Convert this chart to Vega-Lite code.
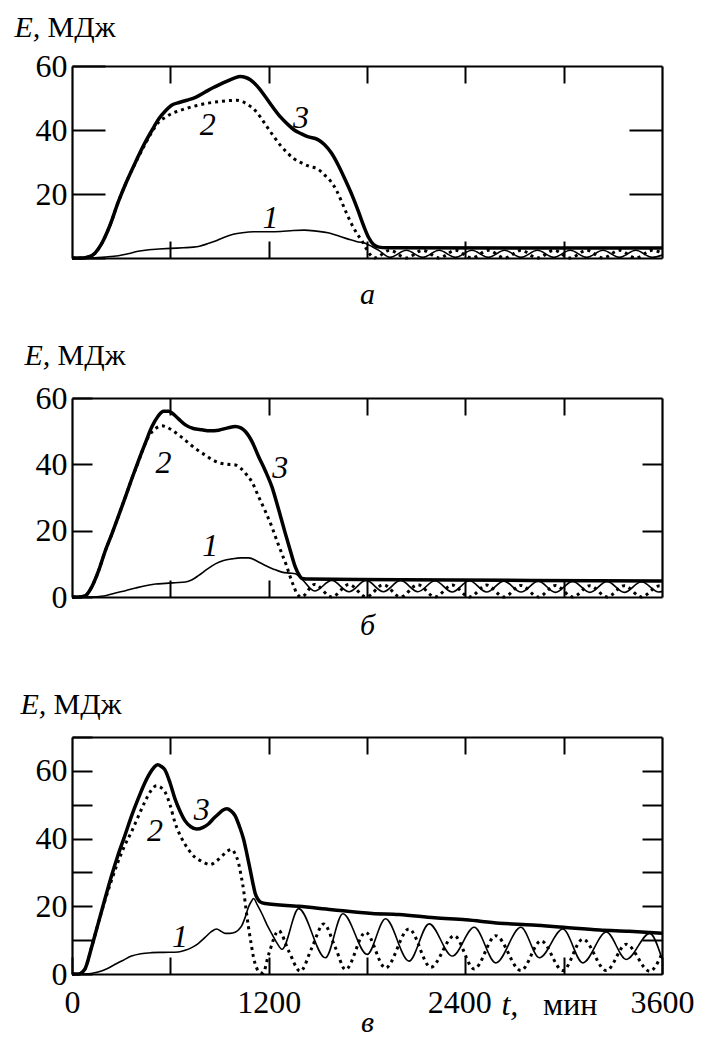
{
"$schema": "https://vega.github.io/schema/vega-lite/v6.json",
"padding": {"left": 14, "top": 12, "right": 5, "bottom": 0},
"background": "white",
"config": {
  "font": "Liberation Serif",
  "view": {"stroke": null},
  "axis": {"grid": false, "domainColor": "black", "domainWidth": 2.2, "tickColor": "black", "tickWidth": 2, "labelFont": "Liberation Serif", "labelFontSize": 32, "labelColor": "black", "titleFont": "Liberation Serif", "titleColor": "black", "titleFontWeight": "normal", "titleFontSize": 30, "labelOverlap": false, "labelFlush": false}
},
"datasets": {
  "a1": [{"t":0,"E":0},{"t":100,"E":0},{"t":200,"E":0.3},{"t":283,"E":0.7},{"t":340,"E":1.3},{"t":403,"E":2.1},{"t":470,"E":2.6},{"t":530,"E":2.8},{"t":600,"E":3},{"t":680,"E":3.2},{"t":740,"E":3.4},{"t":778,"E":3.7},{"t":830,"E":4.5},{"t":880,"E":5.4},{"t":930,"E":6.5},{"t":984,"E":7.4},{"t":1040,"E":7.9},{"t":1108,"E":8.2},{"t":1200,"E":8.2},{"t":1273,"E":8.3},{"t":1350,"E":8.6},{"t":1417,"E":8.7},{"t":1490,"E":8.4},{"t":1562,"E":7.9},{"t":1620,"E":7},{"t":1686,"E":5.9},{"t":1740,"E":5.1},{"t":1789,"E":4.6},{"t":1830,"E":3.6},{"t":1872,"E":2.4},{"t":1940,"E":0.2},{"t":2040,"E":2.4},{"t":2140,"E":0.2},{"t":2240,"E":2.4},{"t":2340,"E":0.2},{"t":2440,"E":2.4},{"t":2540,"E":0.2},{"t":2640,"E":2.4},{"t":2740,"E":0.2},{"t":2840,"E":2.4},{"t":2940,"E":0.2},{"t":3040,"E":2.4},{"t":3140,"E":0.2},{"t":3240,"E":2.4},{"t":3340,"E":0.2},{"t":3440,"E":2.4},{"t":3540,"E":0.2},{"t":3600,"E":0.9}],
  "a2": [{"t":0,"E":0},{"t":60,"E":0},{"t":100,"E":0.3},{"t":140,"E":1.5},{"t":180,"E":4.4},{"t":230,"E":10},{"t":283,"E":17.6},{"t":330,"E":23.5},{"t":386,"E":29.6},{"t":440,"E":35},{"t":489,"E":39.5},{"t":530,"E":42.5},{"t":571,"E":44},{"t":610,"E":45.2},{"t":654,"E":46},{"t":700,"E":46.8},{"t":757,"E":47.6},{"t":830,"E":48.4},{"t":902,"E":48.9},{"t":960,"E":49.2},{"t":1005,"E":49.3},{"t":1040,"E":48.9},{"t":1067,"E":48.1},{"t":1110,"E":46.5},{"t":1150,"E":44},{"t":1190,"E":41},{"t":1232,"E":37.9},{"t":1275,"E":35},{"t":1315,"E":32.8},{"t":1355,"E":31},{"t":1397,"E":29.8},{"t":1450,"E":28.6},{"t":1500,"E":27.8},{"t":1540,"E":26},{"t":1583,"E":23.7},{"t":1615,"E":21},{"t":1645,"E":17.6},{"t":1675,"E":14},{"t":1707,"E":10.5},{"t":1740,"E":7.5},{"t":1769,"E":5.4},{"t":1795,"E":3},{"t":1820,"E":1},{"t":1845,"E":0},{"t":1940,"E":2.4},{"t":2040,"E":0},{"t":2140,"E":2.4},{"t":2240,"E":0},{"t":2340,"E":2.4},{"t":2440,"E":0},{"t":2540,"E":2.4},{"t":2640,"E":0},{"t":2740,"E":2.4},{"t":2840,"E":0},{"t":2940,"E":2.4},{"t":3040,"E":0},{"t":3140,"E":2.4},{"t":3240,"E":0},{"t":3340,"E":2.4},{"t":3440,"E":0},{"t":3540,"E":2.4},{"t":3600,"E":1.6}],
  "a3": [{"t":0,"E":0},{"t":60,"E":0},{"t":100,"E":0.3},{"t":140,"E":1.5},{"t":180,"E":4.4},{"t":230,"E":10},{"t":283,"E":17.6},{"t":330,"E":23.5},{"t":386,"E":29.8},{"t":440,"E":35.5},{"t":489,"E":40},{"t":530,"E":43.5},{"t":571,"E":46},{"t":610,"E":47.8},{"t":654,"E":48.6},{"t":700,"E":49.3},{"t":757,"E":50.3},{"t":810,"E":51.8},{"t":860,"E":53.2},{"t":900,"E":54.2},{"t":943,"E":55.2},{"t":990,"E":56.2},{"t":1026,"E":56.7},{"t":1060,"E":56.4},{"t":1088,"E":55.7},{"t":1130,"E":53.7},{"t":1170,"E":51.1},{"t":1220,"E":47.5},{"t":1273,"E":44},{"t":1320,"E":41.6},{"t":1356,"E":40},{"t":1400,"E":38.8},{"t":1438,"E":37.9},{"t":1500,"E":37},{"t":1540,"E":35.5},{"t":1583,"E":32.8},{"t":1625,"E":29},{"t":1665,"E":24.7},{"t":1710,"E":19.5},{"t":1748,"E":14.5},{"t":1780,"E":10},{"t":1810,"E":6.4},{"t":1840,"E":4.2},{"t":1872,"E":3.4},{"t":1920,"E":3.2},{"t":3600,"E":3.1}],
  "b1": [{"t":0,"E":0},{"t":100,"E":0},{"t":204,"E":0.4},{"t":265,"E":1.2},{"t":326,"E":1.9},{"t":388,"E":2.7},{"t":448,"E":3.4},{"t":510,"E":3.9},{"t":570,"E":4.1},{"t":630,"E":4.3},{"t":692,"E":4.5},{"t":733,"E":5.2},{"t":773,"E":6.5},{"t":825,"E":8.4},{"t":875,"E":10},{"t":925,"E":11},{"t":976,"E":11.5},{"t":1030,"E":11.8},{"t":1078,"E":11.8},{"t":1130,"E":10.8},{"t":1180,"E":9.5},{"t":1230,"E":8.4},{"t":1281,"E":7.5},{"t":1330,"E":7.2},{"t":1363,"E":7},{"t":1404,"E":5.3},{"t":1480,"E":1.8},{"t":1585,"E":5},{"t":1690,"E":1.6},{"t":1795,"E":5},{"t":1900,"E":1.6},{"t":2005,"E":5},{"t":2110,"E":1.6},{"t":2215,"E":4.9},{"t":2320,"E":1.5},{"t":2425,"E":4.9},{"t":2530,"E":1.5},{"t":2635,"E":4.8},{"t":2740,"E":1.5},{"t":2845,"E":4.8},{"t":2950,"E":1.4},{"t":3055,"E":4.7},{"t":3160,"E":1.4},{"t":3265,"E":4.7},{"t":3370,"E":1.4},{"t":3475,"E":4.6},{"t":3580,"E":1.5},{"t":3600,"E":1.7}],
  "b2": [{"t":0,"E":0},{"t":40,"E":0},{"t":82,"E":0.4},{"t":120,"E":3},{"t":163,"E":8},{"t":200,"E":13.5},{"t":244,"E":19.1},{"t":285,"E":24.6},{"t":326,"E":30.2},{"t":366,"E":35.8},{"t":407,"E":41},{"t":440,"E":45.5},{"t":468,"E":48.4},{"t":510,"E":50.8},{"t":549,"E":51.6},{"t":575,"E":51.3},{"t":610,"E":50.3},{"t":660,"E":48.5},{"t":712,"E":46.4},{"t":760,"E":44.5},{"t":813,"E":42.8},{"t":855,"E":41.4},{"t":895,"E":40.5},{"t":950,"E":40},{"t":997,"E":39.8},{"t":1030,"E":38.8},{"t":1058,"E":37.3},{"t":1100,"E":34.5},{"t":1139,"E":30.2},{"t":1180,"E":25.8},{"t":1220,"E":21.1},{"t":1250,"E":17},{"t":1281,"E":13},{"t":1310,"E":9.3},{"t":1332,"E":6},{"t":1355,"E":3},{"t":1373,"E":0.9},{"t":1400,"E":0},{"t":1480,"E":3.8},{"t":1585,"E":0},{"t":1690,"E":3.8},{"t":1795,"E":0},{"t":1900,"E":3.7},{"t":2005,"E":0},{"t":2110,"E":3.7},{"t":2215,"E":0},{"t":2320,"E":3.6},{"t":2425,"E":0},{"t":2530,"E":3.6},{"t":2635,"E":0},{"t":2740,"E":3.5},{"t":2845,"E":0},{"t":2950,"E":3.5},{"t":3055,"E":0},{"t":3160,"E":3.4},{"t":3265,"E":0},{"t":3370,"E":3.4},{"t":3475,"E":0},{"t":3580,"E":3.3},{"t":3600,"E":3.2}],
  "b3": [{"t":0,"E":0},{"t":40,"E":0},{"t":82,"E":0.4},{"t":120,"E":3},{"t":163,"E":8},{"t":200,"E":13.5},{"t":244,"E":19.1},{"t":285,"E":24.6},{"t":326,"E":30.2},{"t":366,"E":35.8},{"t":407,"E":41.3},{"t":448,"E":46.5},{"t":488,"E":51.4},{"t":525,"E":54.5},{"t":559,"E":56},{"t":590,"E":56},{"t":610,"E":55.5},{"t":650,"E":53.7},{"t":692,"E":51.9},{"t":740,"E":50.8},{"t":793,"E":50.4},{"t":840,"E":50.1},{"t":895,"E":50.3},{"t":950,"E":51},{"t":997,"E":51.4},{"t":1030,"E":51},{"t":1058,"E":49.9},{"t":1100,"E":46.7},{"t":1139,"E":42.3},{"t":1180,"E":38},{"t":1220,"E":33.2},{"t":1260,"E":26.5},{"t":1302,"E":19.1},{"t":1335,"E":13.5},{"t":1363,"E":9},{"t":1385,"E":6.7},{"t":1404,"E":5.6},{"t":1450,"E":5.4},{"t":2000,"E":5.2},{"t":2800,"E":5},{"t":3600,"E":4.8}],
  "c1": [{"t":0,"E":0},{"t":80,"E":0},{"t":159,"E":0.6},{"t":210,"E":1.5},{"t":261,"E":2.8},{"t":310,"E":4},{"t":363,"E":5.3},{"t":420,"E":6},{"t":485,"E":6.3},{"t":560,"E":6.4},{"t":649,"E":6.5},{"t":690,"E":7},{"t":730,"E":7.8},{"t":770,"E":9},{"t":812,"E":10.8},{"t":850,"E":12.5},{"t":883,"E":13.3},{"t":910,"E":12.6},{"t":934,"E":12},{"t":965,"E":12},{"t":995,"E":12.3},{"t":1015,"E":13},{"t":1036,"E":14.3},{"t":1057,"E":16.8},{"t":1077,"E":19.8},{"t":1095,"E":21.5},{"t":1108,"E":22.3},{"t":1130,"E":20.5},{"t":1159,"E":17.8},{"t":1190,"E":14.5},{"t":1220,"E":11.8},{"t":1250,"E":9.2},{"t":1281,"E":7.3},{"t":1383,"E":19.3},{"t":1546,"E":4.8},{"t":1653,"E":17.8},{"t":1801,"E":5.8},{"t":1913,"E":16.3},{"t":2056,"E":3.8},{"t":2179,"E":14.8},{"t":2321,"E":5.3},{"t":2454,"E":13.8},{"t":2586,"E":3.3},{"t":2739,"E":13.8},{"t":2852,"E":4.8},{"t":2995,"E":13.3},{"t":3117,"E":3.3},{"t":3260,"E":12.4},{"t":3382,"E":4.3},{"t":3525,"E":12},{"t":3600,"E":4.5}],
  "c2": [{"t":0,"E":0},{"t":40,"E":0},{"t":77,"E":1.3},{"t":120,"E":8},{"t":159,"E":14.8},{"t":200,"E":21.5},{"t":240,"E":27.5},{"t":280,"E":33},{"t":322,"E":38},{"t":363,"E":42},{"t":404,"E":46.5},{"t":444,"E":50.8},{"t":480,"E":54},{"t":516,"E":55.6},{"t":545,"E":55},{"t":567,"E":53.8},{"t":598,"E":50},{"t":628,"E":44.8},{"t":670,"E":40},{"t":710,"E":36.8},{"t":750,"E":34.5},{"t":791,"E":33.3},{"t":842,"E":32.3},{"t":880,"E":33.3},{"t":914,"E":34.8},{"t":945,"E":36.2},{"t":975,"E":36.8},{"t":995,"E":35.5},{"t":1016,"E":32.8},{"t":1032,"E":29},{"t":1047,"E":24.8},{"t":1062,"E":19},{"t":1077,"E":13.8},{"t":1093,"E":9},{"t":1108,"E":4.8},{"t":1125,"E":2},{"t":1145,"E":0.5},{"t":1165,"E":0.3},{"t":1200,"E":5.8},{"t":1261,"E":12.8},{"t":1322,"E":6.8},{"t":1393,"E":0.8},{"t":1464,"E":7.8},{"t":1536,"E":14.8},{"t":1607,"E":7.8},{"t":1669,"E":1.3},{"t":1791,"E":12.3},{"t":1913,"E":1.8},{"t":2056,"E":13.3},{"t":2189,"E":2},{"t":2332,"E":11.3},{"t":2454,"E":1.5},{"t":2586,"E":11.3},{"t":2739,"E":1},{"t":2862,"E":9.8},{"t":2995,"E":1},{"t":3117,"E":10.3},{"t":3260,"E":1},{"t":3382,"E":8.8},{"t":3525,"E":0.8},{"t":3600,"E":6}],
  "c3": [{"t":0,"E":0},{"t":40,"E":0},{"t":77,"E":1.3},{"t":120,"E":8},{"t":159,"E":14.8},{"t":200,"E":22},{"t":240,"E":28.8},{"t":280,"E":35},{"t":322,"E":40.8},{"t":362,"E":46.5},{"t":404,"E":51.8},{"t":440,"E":56},{"t":475,"E":59.3},{"t":500,"E":61},{"t":522,"E":61.8},{"t":545,"E":61.3},{"t":567,"E":60.3},{"t":598,"E":56.5},{"t":628,"E":51.8},{"t":660,"E":48},{"t":689,"E":45.3},{"t":725,"E":43.5},{"t":761,"E":42.8},{"t":800,"E":43.3},{"t":832,"E":44.3},{"t":865,"E":46},{"t":894,"E":47.3},{"t":920,"E":48.4},{"t":944,"E":48.8},{"t":970,"E":48.2},{"t":995,"E":46.8},{"t":1020,"E":43.8},{"t":1047,"E":39.8},{"t":1067,"E":35.5},{"t":1087,"E":30.8},{"t":1103,"E":27},{"t":1118,"E":23.8},{"t":1133,"E":22.2},{"t":1148,"E":21.3},{"t":1179,"E":20.8},{"t":1383,"E":20},{"t":1587,"E":19},{"t":1832,"E":17.9},{"t":1995,"E":17.6},{"t":2212,"E":16.6},{"t":2403,"E":16},{"t":2609,"E":15},{"t":2811,"E":14.5},{"t":3000,"E":13.8},{"t":3219,"E":13},{"t":3400,"E":12.6},{"t":3600,"E":12}],
  "labels": [
    {"p":"a","t":1211,"E":12.5,"txt":"1","it":true},{"p":"a","t":829,"E":41.5,"txt":"2","it":true},{"p":"a","t":1397,"E":43.8,"txt":"3","it":true},
    {"p":"b","t":844,"E":15.5,"txt":"1","it":true},{"p":"b","t":559,"E":40.3,"txt":"2","it":true},{"p":"b","t":1271,"E":39,"txt":"3","it":true},
    {"p":"c","t":659,"E":10.8,"txt":"1","it":true},{"p":"c","t":506,"E":42.3,"txt":"2","it":true},{"p":"c","t":791,"E":48.3,"txt":"3","it":true},
    {"p":"c","t":2672,"E":-9.1,"txt":"t,","it":true},{"p":"c","t":3040,"E":-9.1,"txt":"мин","it":false}
  ]
},
"vconcat": [
  {
    "width": 590, "height": 192,
    "layer": [
      {
        "encoding": {
          "x": {"field":"t","type":"quantitative","scale":{"domain":[0,3600],"nice":false},"axis":{"orient":"bottom","values":[600,1200,1800,2400,3000],"labels":false,"tickSize":-17,"title":"а","titleFontStyle":"italic","titleFontSize":30,"titleBaseline":"alphabetic","titleY":45}},
          "y": {"field":"E","type":"quantitative","scale":{"domain":[0,60],"nice":false},"axis":{"orient":"left","values":[0,20,40,60],"labelExpr":"datum.value === 0 ? '' : datum.label","tickSize":-33,"labelPadding":38,"title":"E,","titleFontStyle":"italic","titleAngle":0,"titleAlign":"left","titleBaseline":"alphabetic","titleX":-58,"titleY":-30}}
        },
        "layer": [
          {"data":{"name":"a1"},"mark":{"type":"line","color":"black","strokeWidth":1.6,"interpolate":"monotone"}},
          {"data":{"name":"a2"},"mark":{"type":"line","color":"black","strokeWidth":3,"strokeDash":[3,4],"interpolate":"monotone"}},
          {"data":{"name":"a3"},"mark":{"type":"line","color":"black","strokeWidth":3.5,"interpolate":"monotone"}}
        ]
      },
      {
        "data":{"name":"labels"},
        "transform":[{"filter":"datum.p === 'a'"}],
        "mark":{"type":"text","font":"Liberation Serif","fontSize":32,"fontStyle":"italic","color":"black"},
        "encoding": {
          "x": {"field":"t","type":"quantitative","scale":{"domain":[0,3600],"nice":false},"axis":{"orient":"top","values":[600,1200,1800,2400,3000],"labels":false,"tickSize":-17,"title":null}},
          "y": {"field":"E","type":"quantitative","scale":{"domain":[0,60],"nice":false},"axis":{"orient":"right","values":[20,40],"labels":false,"tickSize":-33,"title":"МДж","titleAngle":0,"titleAlign":"left","titleBaseline":"alphabetic","titleX":-615,"titleY":-30}},
          "text": {"field":"txt"}
        }
      }
    ],
    "resolve": {"axis": {"x":"independent","y":"independent"}}
  },
  {
    "width": 590, "height": 199,
    "layer": [
      {
        "encoding": {
          "x": {"field":"t","type":"quantitative","scale":{"domain":[0,3600],"nice":false},"axis":{"orient":"bottom","values":[600,1200,1800,2400,3000],"labels":false,"tickSize":-17,"title":"б","titleFontStyle":"italic","titleFontSize":30,"titleBaseline":"alphabetic","titleY":37}},
          "y": {"field":"E","type":"quantitative","scale":{"domain":[0,60],"nice":false},"axis":{"orient":"left","values":[0,20,40,60],"tickSize":-20,"labelPadding":25,"title":"E,","titleFontStyle":"italic","titleAngle":0,"titleAlign":"left","titleBaseline":"alphabetic","titleX":-48,"titleY":-34}}
        },
        "layer": [
          {"data":{"name":"b1"},"mark":{"type":"line","color":"black","strokeWidth":1.6,"interpolate":"monotone"}},
          {"data":{"name":"b2"},"mark":{"type":"line","color":"black","strokeWidth":3,"strokeDash":[3,4],"interpolate":"monotone"}},
          {"data":{"name":"b3"},"mark":{"type":"line","color":"black","strokeWidth":3.5,"interpolate":"monotone"}}
        ]
      },
      {
        "data":{"name":"labels"},
        "transform":[{"filter":"datum.p === 'b'"}],
        "mark":{"type":"text","font":"Liberation Serif","fontSize":32,"fontStyle":"italic","color":"black"},
        "encoding": {
          "x": {"field":"t","type":"quantitative","scale":{"domain":[0,3600],"nice":false},"axis":{"orient":"top","values":[600,1200,1800,2400,3000],"labels":false,"tickSize":-17,"title":null}},
          "y": {"field":"E","type":"quantitative","scale":{"domain":[0,60],"nice":false},"axis":{"orient":"right","values":[20,40],"labels":false,"tickSize":-20,"title":"МДж","titleAngle":0,"titleAlign":"left","titleBaseline":"alphabetic","titleX":-605,"titleY":-34}},
          "text": {"field":"txt"}
        }
      }
    ],
    "resolve": {"axis": {"x":"independent","y":"independent"}}
  },
  {
    "width": 590, "height": 237,
    "layer": [
      {
        "encoding": {
          "x": {"field":"t","type":"quantitative","scale":{"domain":[0,3600],"nice":false},"axis":{"orient":"bottom","values":[0,600,1200,1800,2400,3000,3600],"format":"d","labelExpr":"datum.value % 1200 === 0 ? datum.label : ''","tickSize":-17,"labelPadding":30,"labelOffset":{"condition":{"test":"datum.value === 2400","value":-6},"value":0},"title":"в","titleFontStyle":"italic","titleFontSize":30,"titleBaseline":"alphabetic","titleY":57}},
          "y": {"field":"E","type":"quantitative","scale":{"domain":[0,70],"nice":false},"axis":{"orient":"left","values":[0,10,20,30,40,50,60,70],"labelExpr":"datum.value % 20 === 0 ? datum.label : ''","tickSize":-20,"labelPadding":25,"title":"E,","titleFontStyle":"italic","titleAngle":0,"titleAlign":"left","titleBaseline":"alphabetic","titleX":-52,"titleY":-24}}
        },
        "layer": [
          {"data":{"name":"c1"},"mark":{"type":"line","color":"black","strokeWidth":1.6,"interpolate":"monotone"}},
          {"data":{"name":"c2"},"mark":{"type":"line","color":"black","strokeWidth":3,"strokeDash":[3,4],"interpolate":"monotone"}},
          {"data":{"name":"c3"},"mark":{"type":"line","color":"black","strokeWidth":3.5,"interpolate":"monotone"}}
        ]
      },
      {
        "data":{"name":"labels"},
        "transform":[{"filter":"datum.p === 'c'"}],
        "encoding": {
          "x": {"field":"t","type":"quantitative","scale":{"domain":[0,3600],"nice":false},"axis":{"orient":"top","values":[600,1200,1800,2400,3000],"labels":false,"tickSize":-17,"title":null}},
          "y": {"field":"E","type":"quantitative","scale":{"domain":[0,70],"nice":false},"axis":{"orient":"right","values":[10,20,30,40,50,60],"labels":false,"tickSize":-20,"title":"МДж","titleAngle":0,"titleAlign":"left","titleBaseline":"alphabetic","titleX":-609,"titleY":-24}},
          "text": {"field":"txt"}
        },
        "layer": [
          {"transform":[{"filter":"datum.it"}],"mark":{"type":"text","font":"Liberation Serif","fontSize":32,"fontStyle":"italic","color":"black"}},
          {"transform":[{"filter":"!datum.it"}],"mark":{"type":"text","font":"Liberation Serif","fontSize":32,"color":"black"}}
        ]
      }
    ],
    "resolve": {"axis": {"x":"independent","y":"independent"}}
  }
],
"spacing": 140,
"bounds": "flush"
}
